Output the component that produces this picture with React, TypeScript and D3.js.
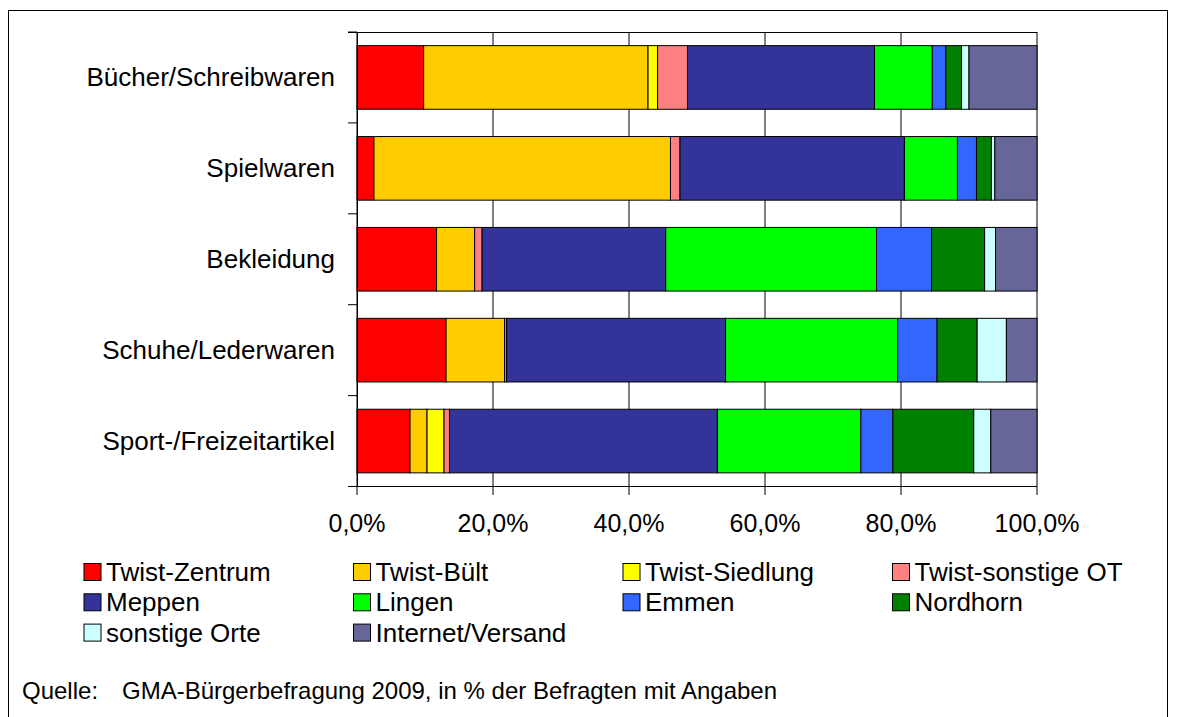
import React from "react";
import * as d3 from "d3";

const categories = [
  "Bücher/Schreibwaren",
  "Spielwaren",
  "Bekleidung",
  "Schuhe/Lederwaren",
  "Sport-/Freizeitartikel",
];

const seriesNames = [
  "Twist-Zentrum",
  "Twist-Bült",
  "Twist-Siedlung",
  "Twist-sonstige OT",
  "Meppen",
  "Lingen",
  "Emmen",
  "Nordhorn",
  "sonstige Orte",
  "Internet/Versand",
];

const seriesColors = [
  "#FF0000",
  "#FFCC00",
  "#FFFF00",
  "#FF8080",
  "#333399",
  "#00FF00",
  "#3366FF",
  "#008000",
  "#CCFFFF",
  "#666699",
];

// values per category, in series order (percent)
const buecher = [9.8, 33.0, 1.4, 4.4, 27.5, 8.5, 2.0, 2.3, 1.1, 10.0];
const spielwaren = [2.5, 43.6, 0.0, 1.4, 33.0, 7.8, 2.8, 2.2, 0.5, 6.2];
const bekleidung = [11.7, 5.6, 0.0, 1.1, 27.0, 31.0, 8.1, 7.8, 1.6, 6.1];
const schuhe = [13.1, 8.6, 0.0, 0.3, 32.2, 25.3, 5.8, 5.9, 4.3, 4.5];
const sport = [7.8, 2.5, 2.5, 0.8, 39.4, 21.1, 4.7, 11.9, 2.5, 6.8];

const valueTicks = [0, 20, 40, 60, 80, 100];
const sourceLabel = "Quelle:";
const sourceText = "GMA-Bürgerbefragung 2009, in % der Befragten mit Angaben";

const W = 1177;
const H = 717;
const FONT = "'Liberation Sans', Arial, sans-serif";

export default function App() {
  const rows = [buecher, spielwaren, bekleidung, schuhe, sport];
  const x = d3.scaleLinear().domain([0, 100]).range([357, 1037]);
  const y = d3
    .scaleBand<string>()
    .domain(categories)
    .range([32, 486.5])
    .paddingInner(0.3)
    .paddingOuter(0.15);
  const step = y.step();
  const fmt = (v: number) => d3.format(".1f")(v).replace(".", ",") + "%";

  const stacked = rows.map((vals) => {
    let acc = 0;
    return vals.map((v) => {
      const s = acc;
      acc += v;
      return [s, acc];
    });
  });

  return (
    <div style={{ position: "absolute", left: 0, top: 0 }}>
      <svg width={W} height={H} style={{ display: "block" }} fontFamily={FONT}>
        <rect x={0} y={0} width={W} height={H} fill="#fff" />
        <rect x={8.5} y={10.5} width={1159} height={730} fill="none" stroke="#000" strokeWidth={1} />
        {/* gridlines */}
        {valueTicks.map((t) => (
          <line key={"g" + t} x1={x(t)} x2={x(t)} y1={32} y2={486.5} stroke="#000" strokeWidth={1} />
        ))}
        <line x1={348} x2={1037} y1={32.5} y2={32.5} stroke="#000" strokeWidth={1} />
        {/* bars */}
        {categories.map((c, i) =>
          stacked[i].map(([s, e], j) =>
            e - s > 0 ? (
              <rect
                key={c + j}
                x={x(s)}
                y={y(c)!}
                width={x(e) - x(s)}
                height={y.bandwidth()}
                fill={seriesColors[j]}
                stroke="#000"
                strokeWidth={1}
              />
            ) : null
          )
        )}
        {/* category axis */}
        <line x1={357.5} x2={357.5} y1={32} y2={486.5} stroke="#000" strokeWidth={1} />
        {d3.range(categories.length + 1).map((k) => (
          <line key={"ct" + k} x1={348} x2={357} y1={32 + k * step} y2={32 + k * step} stroke="#000" strokeWidth={1} />
        ))}
        {categories.map((c) => (
          <text
            key={"cl" + c}
            x={335}
            y={y(c)! + y.bandwidth() / 2}
            textAnchor="end"
            dominantBaseline="central"
            fontSize={26}
            fill="#000"
          >
            {c}
          </text>
        ))}
        {/* value axis */}
        <line x1={357} x2={1037} y1={486.5} y2={486.5} stroke="#000" strokeWidth={1} />
        {valueTicks.map((t) => (
          <g key={"vt" + t}>
            <line x1={x(t)} x2={x(t)} y1={486.5} y2={495} stroke="#000" strokeWidth={1} />
            <text x={x(t)} y={523} textAnchor="middle" dominantBaseline="central" fontSize={25} fill="#000">
              {fmt(t)}
            </text>
          </g>
        ))}
        {/* legend */}
        {seriesNames.map((n, i) => {
          const col = i % 4;
          const row = Math.floor(i / 4);
          const lx = 84 + col * 269.5;
          const ly = 572 + row * 30.3;
          return (
            <g key={"lg" + n}>
              <rect x={lx} y={ly - 8.5} width={17} height={17} fill={seriesColors[i]} stroke="#000" strokeWidth={1} />
              <text x={lx + 22} y={ly} dominantBaseline="central" fontSize={26} fill="#000">
                {n}
              </text>
            </g>
          );
        })}
        {/* source */}
        <text x={22} y={690} dominantBaseline="central" fontSize={24} fill="#000">
          {sourceLabel}
        </text>
        <text x={122} y={690} dominantBaseline="central" fontSize={24} fill="#000">
          {sourceText}
        </text>
      </svg>
    </div>
  );
}
